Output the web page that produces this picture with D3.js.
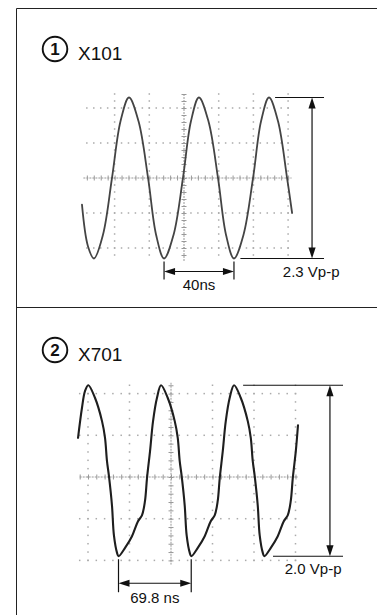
<!DOCTYPE html>
<html><head><meta charset="utf-8">
<script src="https://cdn.jsdelivr.net/npm/d3@7"></script>
<style>html,body{margin:0;padding:0;background:#fff;}svg{display:block;}</style>
</head><body>
<svg id="c" width="377" height="615"></svg>
<script>
// ---- Data ----
const panelTitles = ["X101", "X701"];
const panelNumbers = ["1", "2"];
const ampLabels = ["2.3 Vp-p", "2.0 Vp-p"];
const timeLabels = ["40ns", "69.8 ns"];

// Panel 1 trace: time (ns), voltage (V)
const p1Time = [-58.8,-55.4,-51.9,-46.7,-41.5,-36.6,-31.7,-26.2,-20.7,-16.1,-11.5,-6.0,-0.6,4.0,8.6,14.1,19.6,24.2,28.8,34.3,39.8,44.4,49.0,54.2,59.4,62.3];
const p1Volt = [-0.38,-0.97,-1.15,-0.81,0,0.81,1.15,0.81,0,-0.81,-1.15,-0.81,0,0.81,1.15,0.81,0,-0.81,-1.15,-0.81,0,0.81,1.15,0.81,0,-0.5];

// Panel 2 trace: time (ns), voltage (V)
const p2Time = [-89.6,-85.8,-82.9,
  -79.7,-73.3,-66.5,-63.6,-61.7,-59.8,-56.9,-55.0,-52.0,-50.6,-44.3,-37.6,-31.8,-28.0,-25.1,-23.1,-20.2,-17.3,-13.5,
  -9.6,-3.2,3.6,6.5,8.4,10.3,13.2,15.1,18.1,19.5,25.8,32.5,38.3,42.1,45.0,47.0,49.9,52.8,56.6,
  60.8,67.2,74.0,76.9,78.8,80.7,83.6,85.5,88.5,89.9,96.2,102.9,108.7,112.5,115.4,117.4,120.3,122.4];
const p2Volt = [0.47,0.83,1.03,
  1.10,0.95,0.67,0.47,0.19,0.01,-0.34,-0.70,-0.91,-0.95,-0.85,-0.71,-0.53,-0.46,-0.29,-0.01,0.31,0.67,0.95,
  1.10,0.95,0.67,0.47,0.19,0.01,-0.34,-0.70,-0.91,-0.95,-0.85,-0.71,-0.53,-0.46,-0.29,-0.01,0.31,0.67,0.95,
  1.10,0.95,0.67,0.47,0.19,0.01,-0.34,-0.70,-0.91,-0.95,-0.85,-0.71,-0.53,-0.46,-0.29,-0.01,0.31,0.62];

// Graticule lines
const p1GridTimes = [-40,-20,20,40,60];
const p1GridVolts = [-1,-0.5,0.5,1];
const p2GridTimes = [-80,-40,40,80,120];
const p2GridVolts = [-1,-0.5,0.5,1];

// Measurements: [t1, t2] for time span, [vTop, vBottom] for amplitude
const p1Span = [-11.5, 28.8];
const p1Amp = [1.15, -1.15];
const p2Span = [-50.6, 19.5];
const p2Amp = [1.10, -0.95];

// ---- Drawing ----
const svg = d3.select("#c");
const font = "'Liberation Sans', Arial, Helvetica, sans-serif";

// frame
const frame = svg.append("g").attr("stroke", "#222").attr("stroke-width", 1).attr("fill", "none");
frame.append("path").attr("d", "M16.5,615 V8.5 H377");
frame.append("path").attr("d", "M16.5,307.5 H377");

function arrowHead(g, x, y, dir) {
  const L = 11, W = 3.6;
  let pts;
  if (dir === "up") pts = [[x, y], [x - W, y + L], [x + W, y + L]];
  if (dir === "down") pts = [[x, y], [x - W, y - L], [x + W, y - L]];
  if (dir === "left") pts = [[x, y], [x + L, y - W], [x + L, y + W]];
  if (dir === "right") pts = [[x, y], [x - L, y - W], [x - L, y + W]];
  g.append("path").attr("d", d3.line()(pts) + "Z").attr("fill", "#111");
}

function panel(cfg) {
  const g = svg.append("g");
  const x = d3.scaleLinear().domain(cfg.xDomain).range(cfg.xRange);
  const y = d3.scaleLinear().domain(cfg.yDomain).range(cfg.yRange);

  // title
  g.append("circle").attr("cx", cfg.titleX).attr("cy", cfg.titleY).attr("r", 12.3)
    .attr("fill", "none").attr("stroke", "#111").attr("stroke-width", 1.9);
  g.append("text").attr("x", cfg.titleX).attr("y", cfg.titleY + 6.3).attr("text-anchor", "middle")
    .attr("font-family", font).attr("font-weight", "bold").attr("font-size", 17).attr("fill", "#111")
    .text(cfg.num);
  g.append("text").attr("x", cfg.titleX + 23).attr("y", cfg.titleY + 11).attr("font-family", font)
    .attr("font-size", 19).attr("fill", "#111").text(cfg.title);

  // dotted graticule
  const dots = g.append("g").attr("fill", "#ababab");
  const tMin = cfg.gridT[0], tMax = cfg.gridT[1], vMin = cfg.gridV[0], vMax = cfg.gridV[1];
  cfg.gridVolts.forEach(v => {
    d3.range(Math.ceil(tMin / cfg.tMinor) * cfg.tMinor, tMax + 1e-6, cfg.tMinor).forEach(t => {
      dots.append("rect").attr("x", x(t) - 0.75).attr("y", y(v) - 0.75).attr("width", 1.5).attr("height", 1.5);
    });
  });
  cfg.gridTimes.forEach(t => {
    d3.range(Math.ceil(vMin / cfg.vMinor) * cfg.vMinor, vMax + 1e-6, cfg.vMinor).forEach(v => {
      dots.append("rect").attr("x", x(t) - 0.75).attr("y", y(v) - 0.75).attr("width", 1.5).attr("height", 1.5);
    });
  });

  // center axes with minor ticks
  const hAxis = d3.axisBottom(x)
    .tickValues(d3.range(Math.ceil(tMin / cfg.tMinor) * cfg.tMinor, tMax + 1e-6, cfg.tMinor))
    .tickSize(5).tickSizeOuter(0).tickFormat("");
  const ha = g.append("g").attr("transform", `translate(0,${y(0)})`).call(hAxis);
  ha.select(".domain").attr("d", `M${x(tMin)},0H${x(tMax)}`).attr("stroke", "#999").attr("stroke-dasharray", "2,1");
  ha.selectAll(".tick line").attr("y1", -2.5).attr("y2", 2.5).attr("stroke", "#999");

  const vAxis = d3.axisLeft(y)
    .tickValues(d3.range(Math.ceil(vMin / cfg.vMinor) * cfg.vMinor, vMax + 1e-6, cfg.vMinor))
    .tickSize(5).tickSizeOuter(0).tickFormat("");
  const va = g.append("g").attr("transform", `translate(${x(0)},0)`).call(vAxis);
  va.select(".domain").attr("d", `M0,${y(vMax)}V${y(vMin)}`).attr("stroke", "#999").attr("stroke-dasharray", "2,1");
  va.selectAll(".tick line").attr("x1", -2.5).attr("x2", 2.5).attr("stroke", "#999");

  // trace
  const data = cfg.time.map((t, i) => ({ t, v: cfg.volt[i] }));
  g.append("path").datum(data)
    .attr("d", d3.line().x(d => x(d.t)).y(d => y(d.v)).curve(d3.curveCatmullRom.alpha(0.5)))
    .attr("fill", "none").attr("stroke", cfg.traceColor).attr("stroke-width", cfg.traceWidth)
    .attr("stroke-linejoin", "round").attr("stroke-linecap", "round");

  // amplitude measurement
  const m = g.append("g").attr("stroke", "#111").attr("stroke-width", 1.2);
  const yTop = y(cfg.amp[0]), yBot = y(cfg.amp[1]);
  const ax = x(cfg.ampArrowT);
  m.append("line").attr("x1", x(cfg.ampTopStartT)).attr("x2", x(cfg.ampEndT)).attr("y1", yTop).attr("y2", yTop);
  m.append("line").attr("x1", x(cfg.ampBotStartT)).attr("x2", x(cfg.ampEndT)).attr("y1", yBot).attr("y2", yBot);
  m.append("line").attr("x1", ax).attr("x2", ax).attr("y1", yTop + 4).attr("y2", yBot - 4);
  arrowHead(g, ax, yTop, "up");
  arrowHead(g, ax, yBot, "down");
  g.append("text").attr("x", x(cfg.ampLabelT)).attr("y", yBot + cfg.ampLabelDy).attr("text-anchor", "middle")
    .attr("font-family", font).attr("font-size", 15).attr("fill", "#111").text(cfg.ampLabel);

  // time measurement
  const x1 = x(cfg.span[0]), x2 = x(cfg.span[1]);
  const tickTop = yBot + 3, tickBot = yBot + cfg.spanTickLen, arrowY = yBot + cfg.spanArrowDy;
  m.append("line").attr("x1", x1).attr("x2", x1).attr("y1", tickTop).attr("y2", tickBot);
  m.append("line").attr("x1", x2).attr("x2", x2).attr("y1", tickTop).attr("y2", tickBot);
  m.append("line").attr("x1", x1 + 4).attr("x2", x2 - 4).attr("y1", arrowY).attr("y2", arrowY);
  arrowHead(g, x1, arrowY, "left");
  arrowHead(g, x2, arrowY, "right");
  g.append("text").attr("x", (x1 + x2) / 2).attr("y", arrowY + cfg.spanLabelDy).attr("text-anchor", "middle")
    .attr("font-family", font).attr("font-size", 15).attr("fill", "#111").text(cfg.spanLabel);
}

// Panel 1: 20 ns/div, 0.5 V/div
panel({
  title: panelTitles[0], num: panelNumbers[0], titleX: 55, titleY: 49,
  xDomain: [-60, 60], xRange: [184 - 60 * 1.735, 184 + 60 * 1.735],
  yDomain: [-1.2, 1.2], yRange: [178 + 84, 178 - 84],
  gridTimes: p1GridTimes, gridVolts: p1GridVolts, gridT: [-58, 62], gridV: [-1.2, 1.2],
  tMinor: 4, vMinor: 0.1,
  time: p1Time, volt: p1Volt, traceColor: "#444", traceWidth: 1.8,
  amp: p1Amp, ampArrowT: 73.8, ampTopStartT: 52.5, ampBotStartT: 32.5, ampEndT: 80.7,
  ampLabelT: 73.3, ampLabelDy: 18, ampLabel: ampLabels[0],
  span: p1Span, spanTickLen: 21, spanArrowDy: 13, spanLabelDy: 18, spanLabel: timeLabels[0]
});

// Panel 2: 40 ns/div, 0.5 V/div
panel({
  title: panelTitles[1], num: panelNumbers[1], titleX: 55, titleY: 350,
  xDomain: [-80, 120], xRange: [171 - 80 * 1.0375, 171 + 120 * 1.0375],
  yDomain: [-1, 1], yRange: [477 + 83.4, 477 - 83.4],
  gridTimes: p2GridTimes, gridVolts: p2GridVolts, gridT: [-88, 123], gridV: [-1.05, 1.13],
  tMinor: 8, vMinor: 0.1,
  time: p2Time, volt: p2Volt, traceColor: "#1e1e1e", traceWidth: 2.1,
  amp: p2Amp, ampArrowT: 153.2, ampTopStartT: 69.5, ampBotStartT: 98.3, ampEndT: 165.8,
  ampLabelT: 137, ampLabelDy: 18, ampLabel: ampLabels[1],
  span: p2Span, spanTickLen: 36, spanArrowDy: 27, spanLabelDy: 20, spanLabel: timeLabels[1]
});
</script>
</body></html>
